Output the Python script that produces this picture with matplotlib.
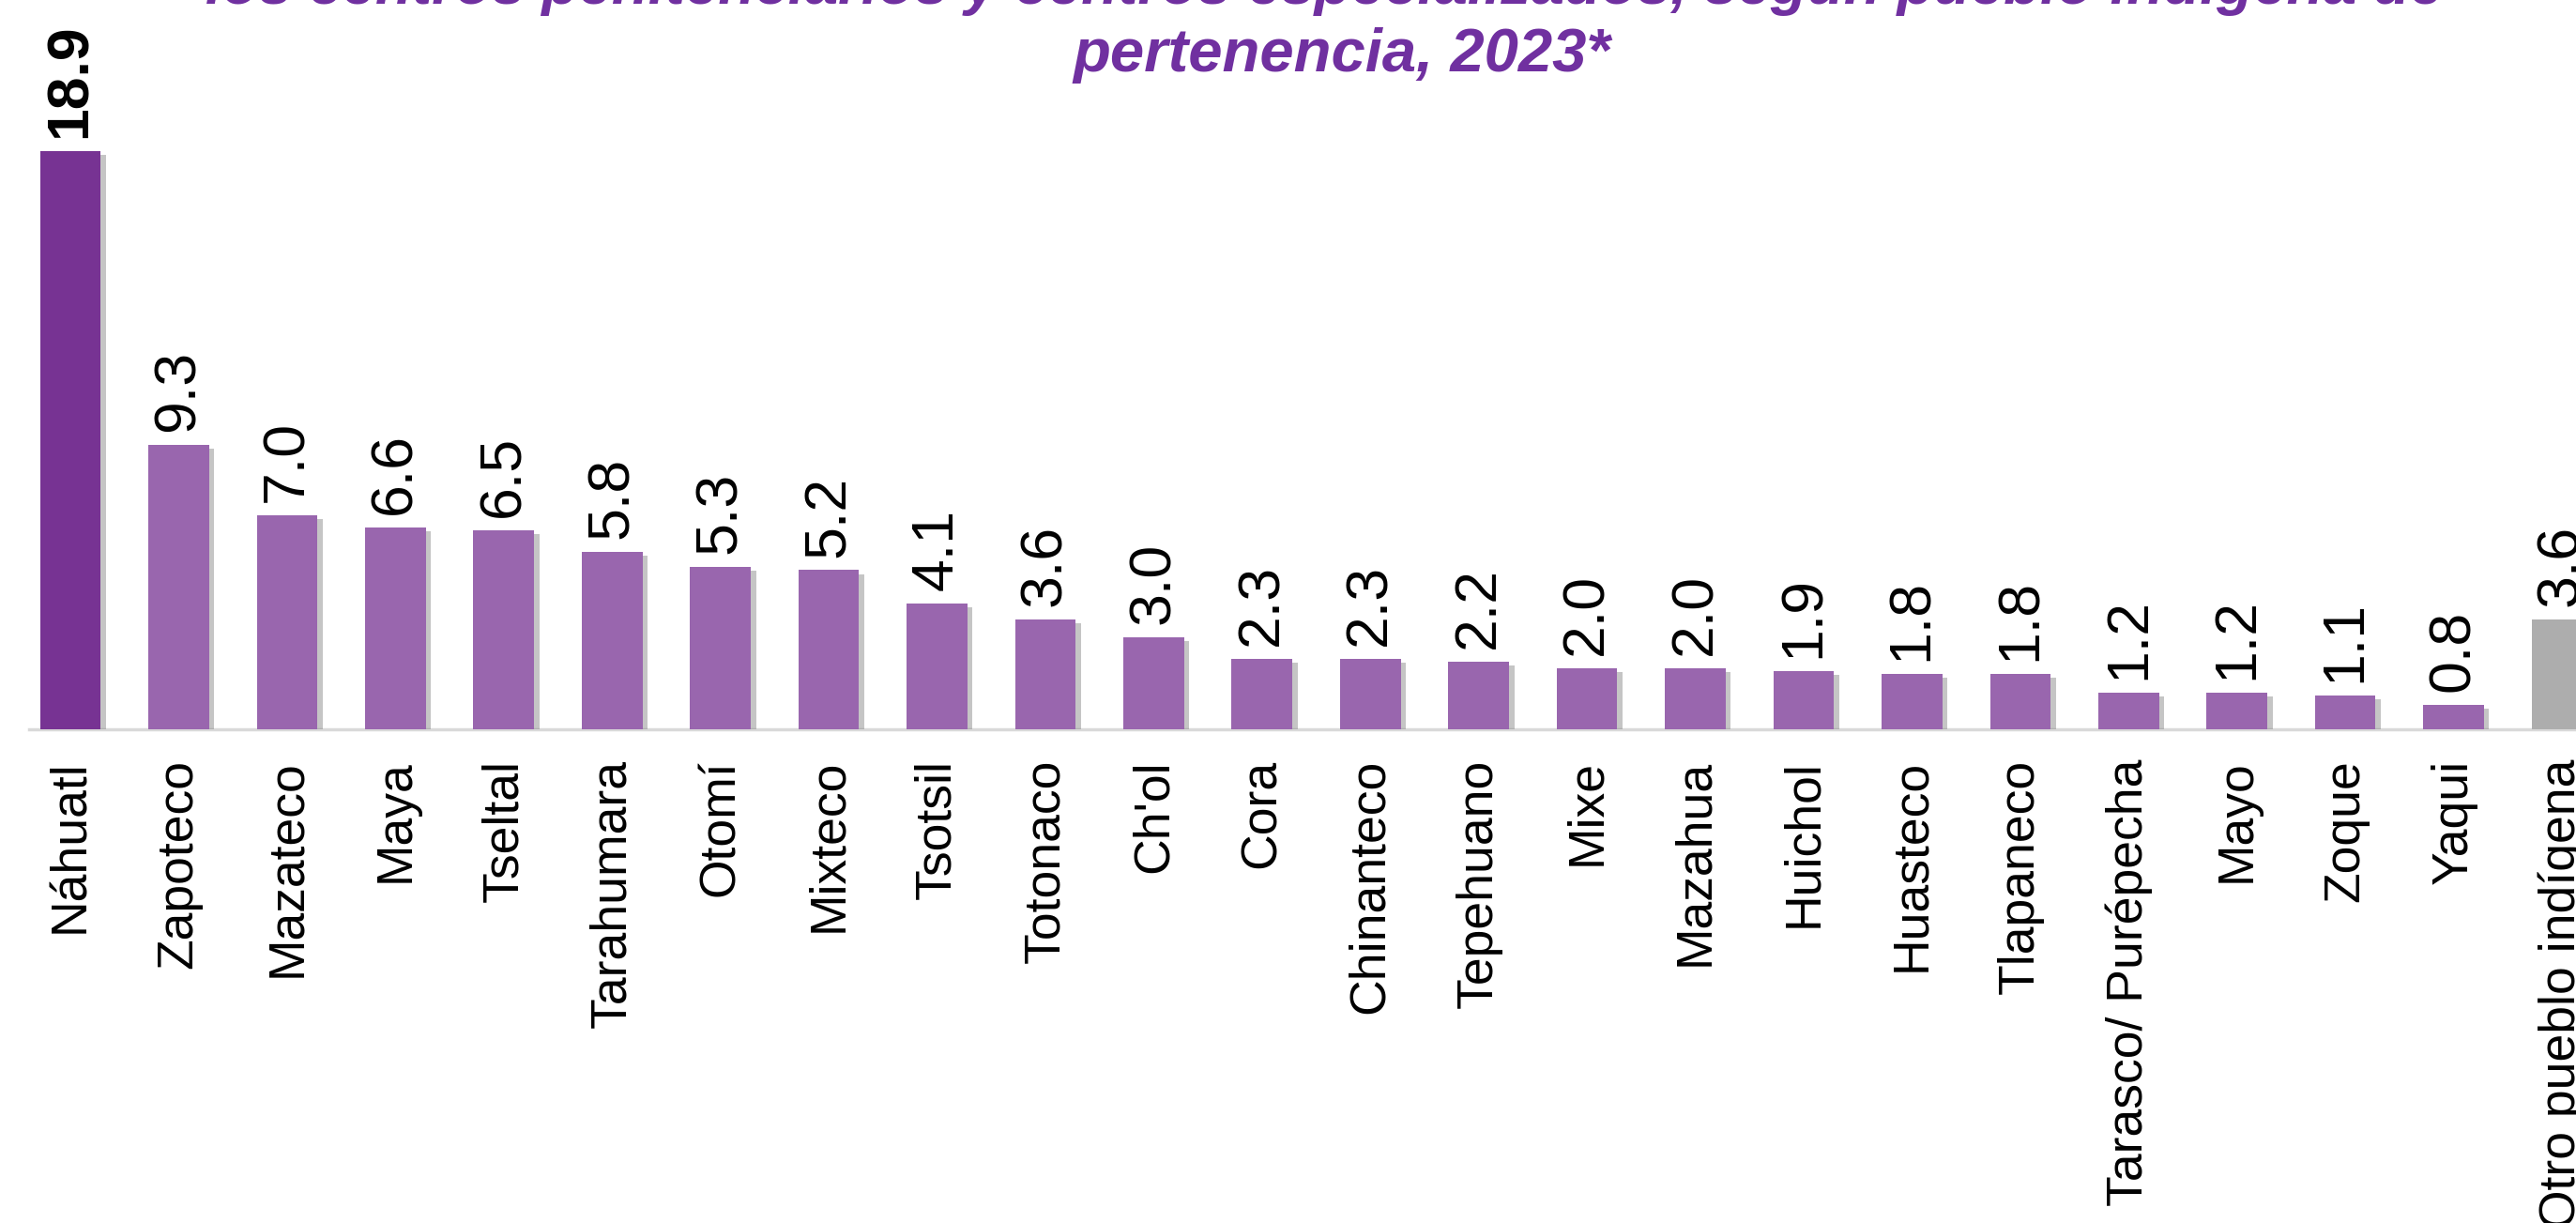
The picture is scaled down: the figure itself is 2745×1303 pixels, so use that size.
import matplotlib
matplotlib.use("Agg")
import matplotlib.pyplot as plt
import matplotlib.patheffects as pe

pueblos = ["Náhuatl", "Zapoteco", "Mazateco", "Maya", "Tseltal", "Tarahumara",
           "Otomí", "Mixteco", "Tsotsil", "Totonaco", "Ch'ol", "Cora",
           "Chinanteco", "Tepehuano", "Mixe", "Mazahua", "Huichol", "Huasteco",
           "Tlapaneco", "Tarasco/ Purépecha", "Mayo", "Zoque", "Yaqui",
           "Otro pueblo indígena"]
porcentajes = [18.9, 9.3, 7.0, 6.6, 6.5, 5.8, 5.3, 5.2, 4.1, 3.6, 3.0, 2.3,
               2.3, 2.2, 2.0, 2.0, 1.9, 1.8, 1.8, 1.2, 1.2, 1.1, 0.8, 3.6]
titulo = ["los centros penitenciarios y centros especializados, según pueblo indígena de",
          "pertenencia, 2023*"]

plt.rcParams['font.family'] = ['Liberation Sans', 'DejaVu Sans']

morado_oscuro = "#773393"
morado = "#9966AE"
gris = "#ADADAD"
colores = [morado_oscuro] + [morado] * (len(pueblos) - 2) + [gris]

fig = plt.figure(figsize=(27.45, 13.03), dpi=100)
ax = fig.add_axes([0, 0.4037, 1, 0.5963])

x = list(range(len(pueblos)))
bars = ax.bar(x, porcentajes, width=0.56, color=colores, zorder=3)
# sombra suave a la derecha de cada barra
sombra = [pe.SimplePatchShadow(offset=(4, -3), shadow_rgbFace="#7f7f7f", alpha=0.45), pe.Normal()]
for b in bars:
    b.set_path_effects(sombra)

for i, v in enumerate(porcentajes):
    ax.annotate(f"{v:.1f}", (i, v), xytext=(0, 10), textcoords="offset points",
                rotation=90, ha="center", va="bottom", fontsize=45,
                fontweight="bold" if i == 0 else "normal", color="black")

ax.set_xlim(-0.65, 23.13)
ax.set_ylim(0, 23.83)
ax.set_xticks(x)
ax.set_xticklabels(pueblos, rotation=90, fontsize=38.5)
ax.tick_params(axis="x", length=0, pad=23)
ax.set_yticks([])
for s in ["top", "right", "left"]:
    ax.spines[s].set_visible(False)
ax.spines["bottom"].set_color("#D9D9D9")
ax.spines["bottom"].set_linewidth(2.5)
ax.spines["bottom"].set_bounds(-0.38, 24)

fig.text(0.514, 0.997, titulo[0], ha="center", va="baseline", fontsize=46,
         fontweight="bold", fontstyle="italic", color="#7030A0")
fig.text(0.521, 0.942, titulo[1], ha="center", va="baseline", fontsize=47,
         fontweight="bold", fontstyle="italic", color="#7030A0")

fig.savefig("out.png", dpi=100)
